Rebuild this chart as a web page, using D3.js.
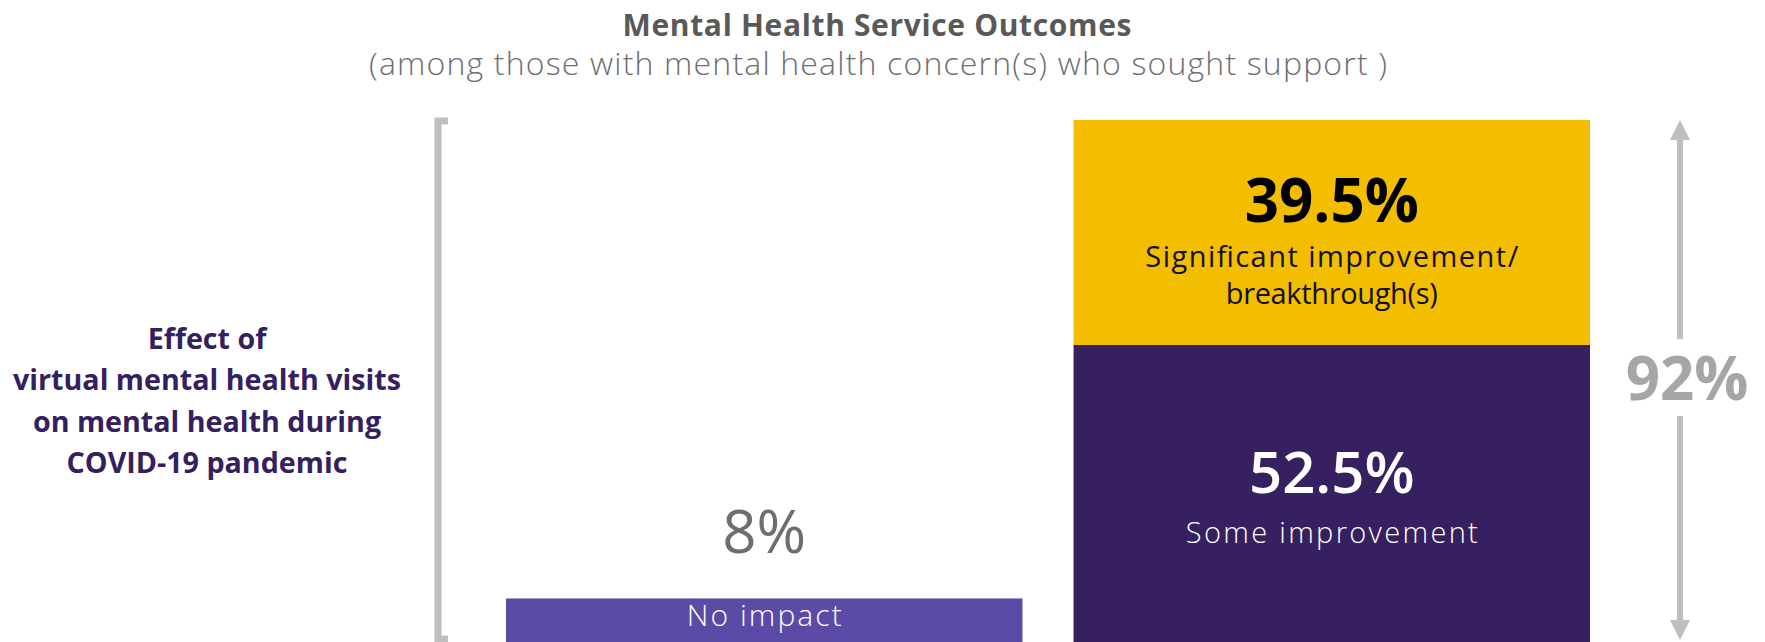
<!DOCTYPE html>
<html>
<head>
<meta charset="utf-8">
<script src="https://cdn.jsdelivr.net/npm/d3@7/dist/d3.min.js"></script>
<style>
  html, body { margin: 0; padding: 0; background: #ffffff; }
  svg { display: block; }
</style>
</head>
<body>
<svg id="chart" width="1765" height="642"></svg>
<script>
// ---- data ----
const titleText = "Mental Health Service Outcomes";
const subtitleText = "(among those with mental health concern(s) who sought support )";
const rowLabelLines = ["Effect of", "virtual mental health visits", "on mental health during", "COVID-19 pandemic"];

const columns = ["noImpact", "improved"];
const segmentNames = ["No impact", "Some improvement", "Significant improvement/\nbreakthrough(s)"];
const segmentColumns = ["noImpact", "improved", "improved"];
const segmentValues = [8, 52.5, 39.5];
const improvedTotal = 92;

// ---- layout ----
const svg = d3.select("#chart");
const colors = {
  "No impact": "#5b4aa6",
  "Some improvement": "#37205f",
  "Significant improvement/\nbreakthrough(s)": "#f4be00"
};

const x = d3.scaleBand().domain(columns).range([506, 1590]).paddingInner(0.09).paddingOuter(0);
const y = d3.scaleLinear().domain([0, improvedTotal]).range([644, 120]);

// stack the segments within each column
const segments = [];
const running = {};
columns.forEach(c => running[c] = 0);
segmentNames.forEach((name, i) => {
  const col = segmentColumns[i];
  const v0 = running[col];
  const v1 = v0 + segmentValues[i];
  running[col] = v1;
  segments.push({ name, col, value: segmentValues[i], v0, v1 });
});

// title
svg.append("text")
  .attr("x", 877).attr("y", 36)
  .attr("text-anchor", "middle")
  .attr("font-family", "'Open Sans', sans-serif")
  .attr("font-weight", 700)
  .attr("font-size", 30)
  .attr("fill", "#595959")
  .attr("textLength", 509).attr("lengthAdjust", "spacing")
  .text(titleText);

svg.append("text")
  .attr("x", 878).attr("y", 75)
  .attr("text-anchor", "middle")
  .attr("font-family", "'Open Sans', sans-serif")
  .attr("font-weight", 300)
  .attr("font-size", 32)
  .attr("fill", "#6d6e71")
  .attr("textLength", 1018).attr("lengthAdjust", "spacing")
  .text(subtitleText);

// row label, sized so its widest line spans 388px
const rowLabel = svg.append("text")
  .attr("text-anchor", "middle")
  .attr("font-family", "'Open Sans', sans-serif")
  .attr("font-weight", 700)
  .attr("font-size", 28)
  .attr("fill", "#35205f");
rowLabel.selectAll("tspan")
  .data(rowLabelLines)
  .join("tspan")
  .attr("x", 207)
  .attr("y", (d, i) => 349 + i * 41.3)
  .text(d => d);
const widest = d3.max(rowLabel.selectAll("tspan").nodes(), n => n.getComputedTextLength());
rowLabel.attr("font-size", 28 * 388 / widest);

// bracket
svg.append("path")
  .attr("d", `M448,121 H438 V639 H448`)
  .attr("fill", "none")
  .attr("stroke", "#bfbfbf")
  .attr("stroke-width", 7);

// bars
svg.append("g")
  .selectAll("rect")
  .data(segments)
  .join("rect")
  .attr("x", d => x(d.col))
  .attr("width", x.bandwidth())
  .attr("y", d => y(d.v1))
  .attr("height", d => y(d.v0) - y(d.v1))
  .attr("fill", d => colors[d.name]);

const cx = d => x(d.col) + x.bandwidth() / 2;
const fmt = v => (Number.isInteger(v) ? v : v.toFixed(1)) + "%";

// No impact labels
const sNo = segments[0];
svg.append("text")
  .attr("x", cx(sNo)).attr("y", y(sNo.v1) - 45)
  .attr("text-anchor", "middle")
  .attr("font-family", "'Open Sans', sans-serif")
  .attr("font-weight", 500)
  .attr("font-size", 60)
  .attr("fill", "#6d6e71")
  .text(fmt(sNo.value));
svg.append("text")
  .attr("x", cx(sNo)).attr("y", y(sNo.v1) + 28)
  .attr("text-anchor", "middle")
  .attr("font-family", "'Open Sans', sans-serif")
  .attr("font-weight", 300)
  .attr("font-size", 30)
  .attr("fill", "#ffffff")
  .attr("textLength", 155).attr("lengthAdjust", "spacing")
  .text(sNo.name);

// Some improvement labels
const sSome = segments[1];
const midSome = (y(sSome.v0) + y(sSome.v1)) / 2;
svg.append("text")
  .attr("x", cx(sSome)).attr("y", midSome - 1)
  .attr("text-anchor", "middle")
  .attr("font-family", "'Open Sans', sans-serif")
  .attr("font-weight", 600)
  .attr("font-size", 58)
  .attr("fill", "#ffffff")
  .text(fmt(sSome.value));
svg.append("text")
  .attr("x", cx(sSome)).attr("y", midSome + 49)
  .attr("text-anchor", "middle")
  .attr("font-family", "'Open Sans', sans-serif")
  .attr("font-weight", 300)
  .attr("font-size", 29)
  .attr("fill", "#ffffff")
  .attr("textLength", 292).attr("lengthAdjust", "spacing")
  .text(sSome.name);

// Significant improvement labels
const sSig = segments[2];
const midSig = (y(sSig.v0) + y(sSig.v1)) / 2;
svg.append("text")
  .attr("x", cx(sSig)).attr("y", midSig - 10)
  .attr("text-anchor", "middle")
  .attr("font-family", "'Open Sans', sans-serif")
  .attr("font-weight", 700)
  .attr("font-size", 60)
  .attr("fill", "#000000")
  .text(fmt(sSig.value));
const sigLines = sSig.name.split("\n");
const sigWidths = [373, 212];
const sigText = svg.append("text")
  .attr("text-anchor", "middle")
  .attr("font-family", "'Open Sans', sans-serif")
  .attr("font-weight", 400)
  .attr("font-size", 29)
  .attr("fill", "#111111");
sigText.selectAll("tspan")
  .data(sigLines)
  .join("tspan")
  .attr("x", cx(sSig))
  .attr("y", (d, i) => midSig + 35 + i * 37)
  .attr("textLength", (d, i) => sigWidths[i])
  .attr("lengthAdjust", "spacing")
  .text(d => d);

// total arrow
const ax = 1680;
const arrowColor = "#bfbfbf";
const topY = y(improvedTotal), botY = y(0) - 4;
svg.append("line")
  .attr("x1", ax).attr("x2", ax).attr("y1", topY + 18).attr("y2", 339)
  .attr("stroke", arrowColor).attr("stroke-width", 6);
svg.append("line")
  .attr("x1", ax).attr("x2", ax).attr("y1", 416).attr("y2", botY - 18)
  .attr("stroke", arrowColor).attr("stroke-width", 6);
svg.append("path")
  .attr("d", `M${ax},${topY} L${ax + 10},${topY + 20} L${ax - 10},${topY + 20} Z`)
  .attr("fill", arrowColor);
svg.append("path")
  .attr("d", `M${ax},${botY} L${ax + 10},${botY - 20} L${ax - 10},${botY - 20} Z`)
  .attr("fill", arrowColor);
svg.append("text")
  .attr("x", 1687).attr("y", 400)
  .attr("text-anchor", "middle")
  .attr("font-family", "'Open Sans', sans-serif")
  .attr("font-weight", 700)
  .attr("font-size", 60)
  .attr("fill", "#a6a6a6")
  .text(fmt(improvedTotal));
</script>
</body>
</html>
